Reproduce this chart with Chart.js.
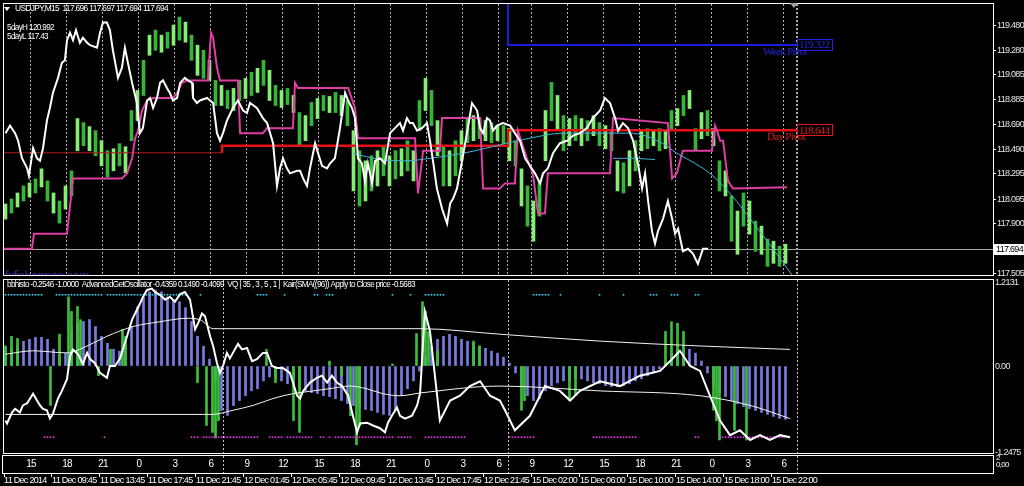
<!DOCTYPE html>
<html>
<head>
<meta charset="utf-8">
<title>USDJPY M15</title>
<script src="https://cdn.jsdelivr.net/npm/chart.js@4.4.1/dist/chart.umd.min.js"></script>
<style>
  html, body { margin: 0; padding: 0; background: #000; overflow: hidden; }
  #wrap { position: relative; width: 1024px; height: 486px; }
  canvas { position: absolute; left: 0; }
  #priceChart { top: 0; }
  #oscChart { top: 276px; }
</style>
</head>
<body>
<div id="wrap">
  <canvas id="priceChart" width="1024" height="277"></canvas>
  <canvas id="oscChart" width="1024" height="210"></canvas>
</div>
<script>
const FONT = "'Liberation Sans', 'DejaVu Sans', sans-serif";
const SERIF = "'Liberation Serif', 'DejaVu Serif', serif";

// x values are M15 bar numbers, 0 = first bar on screen
const xMin = -0.5;
const xMax = 329.17;

const hourIdx = [8.5, 20.5, 32.5, 44.5, 56.5, 68.5, 80.5, 92.5, 104.5, 116.5, 128.5, 140.5,
  152.5, 164.5, 175.5, 187.5, 199.5, 211.5, 223.5, 235.5, 247.5, 259.5];
const hourLabels = ['15', '18', '21', '0', '3', '6', '9', '12', '15', '18', '21', '0',
  '3', '6', '9', '12', '15', '18', '21', '0', '3', '6'];
const weekBreak = 167.5;
const lastBarMark = 263.8;
const daySeps = [72.5, 167.5, 263.8];
const dateIdx = [-0.5, 15.5, 31.5, 47.5, 63.5, 79.5, 95.5, 111.5, 127.5, 143.5, 159.5,
  175.5, 191.5, 207.5, 223.5, 239.5, 255.5];
const dateLabels = ['11 Dec 2014', '11 Dec 09:45', '11 Dec 13:45', '11 Dec 17:45', '11 Dec 21:45',
  '12 Dec 01:45', '12 Dec 05:45', '12 Dec 09:45', '12 Dec 13:45', '12 Dec 17:45', '12 Dec 21:45',
  '15 Dec 02:00', '15 Dec 06:00', '15 Dec 10:00', '15 Dec 14:00', '15 Dec 18:00', '15 Dec 22:00'];

// price panel
const priceTicks = [119.48, 119.28, 119.085, 118.885, 118.69, 118.49, 118.295, 118.095, 117.9, 117.505];
const bid = 117.694;

// one candle every second bar: highs and lows
const candleHi = [118.056, 118.096, 118.144, 118.20, 118.224, 118.256, 118.336, 118.24, 118.144, 118.08,
  118.20, 118.32, 118.736, 118.704, 118.672, 118.64, 118.56, 118.48, 118.496, 118.536,
  118.512, 118.80, 118.96, 119.20, 119.40, 119.44, 119.40, 119.424, 119.48, 119.544,
  119.504, 119.40, 119.32, 119.28, 119.20, 119.04, 119.00, 118.96, 118.976, 119.04,
  119.056, 119.104, 119.136, 119.20, 119.12, 119.00, 118.96, 118.976, 118.92, 118.784,
  118.76, 118.864, 118.896, 118.92, 118.912, 118.944, 118.92, 118.88, 118.64, 118.48,
  118.40, 118.44, 118.48, 118.52, 118.44, 118.48, 118.496, 118.56, 118.48, 118.88,
  119.056, 118.96, 118.72, 118.52, 118.48, 118.56, 118.64, 118.736, 118.76, 118.736,
  118.72, 118.704, 118.68, 118.68, 118.656, 118.56, 118.336, 118.20, 118.08, 118.24,
  118.80, 119.024, 118.92, 118.76, 118.736, 118.76, 118.736, 118.72, 118.76, 118.704,
  118.68, 118.64, 118.40, 118.384, 118.48, 118.56, 118.64, 118.656, 118.64, 118.656,
  118.64, 118.80, 118.816, 118.92, 118.96, 118.656, 118.784, 118.80, 118.656, 118.40,
  118.32, 118.12, 118.00, 118.144, 118.08, 117.92, 117.88, 117.776, 117.76, 117.72, 117.736];
const candleLo = [117.936, 117.984, 118.032, 118.08, 118.112, 118.144, 118.192, 118.08, 117.984, 117.904,
  118.016, 118.12, 118.48, 118.52, 118.48, 118.44, 118.36, 118.272, 118.32, 118.36,
  118.304, 118.56, 118.72, 118.92, 119.24, 119.28, 119.264, 119.296, 119.32, 119.36,
  119.344, 119.20, 119.08, 119.056, 119.04, 118.84, 118.84, 118.816, 118.80, 118.88,
  118.896, 118.92, 118.944, 119.00, 118.88, 118.84, 118.824, 118.848, 118.784, 118.52,
  118.56, 118.68, 118.736, 118.80, 118.784, 118.784, 118.76, 118.68, 118.16, 118.04,
  118.08, 118.16, 118.20, 118.28, 118.20, 118.256, 118.28, 118.32, 118.24, 118.64,
  118.80, 118.68, 118.44, 118.20, 118.20, 118.28, 118.40, 118.544, 118.56, 118.576,
  118.56, 118.544, 118.56, 118.536, 118.40, 118.36, 118.04, 117.88, 117.76, 117.96,
  118.40, 118.72, 118.64, 118.48, 118.52, 118.56, 118.52, 118.56, 118.60, 118.52,
  118.496, 118.48, 118.16, 118.144, 118.20, 118.32, 118.48, 118.496, 118.52, 118.48,
  118.496, 118.64, 118.68, 118.76, 118.816, 118.48, 118.576, 118.60, 118.52, 118.16,
  118.12, 117.76, 117.656, 117.88, 117.816, 117.68, 117.656, 117.56, 117.584, 117.56, 117.584];

const whiteLine = [[0, 118.62], [1.5, 118.68], [3.2, 118.62], [4.2, 118.56], [5.5, 118.42], [7.2, 118.34],
  [7.8, 118.28], [9.2, 118.50], [10.5, 118.42], [11.5, 118.40], [12.5, 118.50], [13.8, 118.72],
  [14.8, 118.82], [15.8, 118.94], [17.5, 119.06], [18.8, 119.18], [19.8, 119.20], [20.5, 119.36],
  [21.5, 119.42], [22.5, 119.36], [23.5, 119.44], [24.8, 119.34], [25.8, 119.38], [27.2, 119.34],
  [28.2, 119.32], [30.5, 119.30], [31.5, 119.42], [32.5, 119.50], [33.8, 119.50], [34.8, 119.44],
  [35.8, 119.28], [37.5, 119.06], [38.8, 119.14], [39.8, 119.30], [40.8, 119.18], [42.2, 119.02],
  [43.8, 118.86], [44.8, 118.62], [45.8, 118.66], [47.2, 118.88], [48.2, 118.90], [49.2, 118.82],
  [50.5, 118.90], [51.5, 119.02], [52.5, 119.04], [53.8, 118.98], [54.8, 118.94], [55.8, 118.88],
  [57.2, 118.90], [58.2, 119.02], [59.8, 119.06], [60.8, 119.04], [62.2, 119.02], [62.5, 118.90],
  [63.8, 118.86], [64.8, 118.88], [67.2, 118.90], [68.2, 118.88], [69.2, 118.86], [70.5, 118.62],
  [71.5, 118.56], [72.5, 118.62], [73.8, 118.72], [75.8, 118.82], [77.5, 118.88], [79.2, 118.80],
  [80.5, 118.78], [81.5, 118.86], [83.8, 118.82], [85.8, 118.74], [87.2, 118.70], [88.2, 118.62],
  [89.2, 118.54], [90.5, 118.20], [91.5, 118.34], [92.5, 118.42], [93.8, 118.34], [94.8, 118.30],
  [97.2, 118.32], [98.2, 118.32], [99.2, 118.26], [100.5, 118.20], [101.5, 118.34], [103.2, 118.54],
  [104.2, 118.46], [105.5, 118.36], [107.2, 118.34], [108.2, 118.38], [109.8, 118.42], [111.5, 118.66],
  [113.2, 118.94], [114.2, 118.88], [115.5, 118.82], [116.5, 118.74], [117.5, 118.42], [118.8, 118.38],
  [119.8, 118.24], [120.8, 118.38], [122.2, 118.22], [123.2, 118.40], [124.8, 118.42], [126.5, 118.38],
  [128.2, 118.62], [129.8, 118.66], [131.5, 118.70], [132.5, 118.64], [133.8, 118.74], [134.8, 118.70],
  [135.8, 118.70], [137.2, 118.64], [138.8, 118.66], [140.5, 118.70], [141.5, 118.56], [142.5, 118.40],
  [143.8, 118.18], [145.5, 118.02], [147.2, 117.90], [148.2, 118.06], [149.2, 118.10], [150.5, 118.18],
  [152.2, 118.40], [153.8, 118.62], [155.5, 118.86], [157.2, 118.80], [158.2, 118.66], [159.2, 118.62],
  [160.5, 118.74], [161.5, 118.72], [162.5, 118.64], [163.8, 118.68], [165.8, 118.70], [168.2, 118.68],
  [169.8, 118.62], [171.5, 118.56], [173.2, 118.42], [174.8, 118.36], [176.5, 118.30], [178.2, 118.22],
  [179.2, 118.30], [180.8, 118.34], [182.5, 118.46], [184.8, 118.54], [187.2, 118.56], [189.2, 118.60],
  [191.5, 118.62], [193.8, 118.66], [195.8, 118.74], [198.2, 118.80], [199.8, 118.90], [201.5, 118.86],
  [203.2, 118.74], [204.2, 118.64], [205.8, 118.70], [207.5, 118.66], [209.2, 118.56], [210.8, 118.38],
  [212.2, 118.18], [213.2, 118.30], [214.2, 118.08], [215.5, 117.84], [216.5, 117.74], [217.5, 117.84],
  [219.2, 117.94], [220.8, 118.08], [222.2, 117.94], [223.2, 117.82], [224.2, 117.86], [225.8, 117.68],
  [227.5, 117.70], [229.2, 117.66], [230.8, 117.58], [232.5, 117.70], [234.2, 117.70]];

const channelLine = [[-0.5, 117.70], [8.8, 117.70], [9.5, 117.82], [20.5, 117.82], [22.5, 118.26], [38.8, 118.26],
  [40.5, 118.30], [42.2, 118.42], [43.2, 118.58], [44.2, 118.64], [45.5, 118.80], [47.2, 118.88],
  [49.2, 118.90], [55.8, 118.90], [57.2, 118.94], [58.8, 119.02], [60.5, 119.04], [67.5, 119.04],
  [68.5, 119.42], [69.2, 119.38], [70.5, 119.14], [71.5, 119.04], [77.5, 119.04], [78.2, 118.62],
  [85.8, 118.62], [87.2, 118.66], [95.8, 118.66], [96.5, 119.02], [97.5, 118.98], [114.2, 118.98],
  [116.5, 118.82], [117.5, 118.58], [136.5, 118.58], [137.5, 118.14], [139.2, 118.48], [144.8, 118.48],
  [145.5, 118.74], [158.2, 118.74], [159.2, 118.18], [164.8, 118.18], [166.5, 118.22], [169.8, 118.22],
  [170.8, 118.64], [173.8, 118.42], [175.8, 118.30], [177.5, 117.98], [179.8, 117.98], [180.8, 118.30],
  [201.5, 118.30], [202.5, 118.74], [220.8, 118.70], [222.2, 118.26], [223.8, 118.30], [225.5, 118.46],
  [225.8, 118.48], [235.5, 118.48], [236.5, 118.68], [237.2, 118.64], [238.2, 118.56], [239.2, 118.56],
  [240.8, 118.24], [242.5, 118.18], [260.5, 118.19]];

const cyanCurve = [[115.8, 118.46], [124.8, 118.41], [133.8, 118.40], [141.5, 118.42], [152.5, 118.46],
  [167.2, 118.54], [174.8, 118.58], [185.8, 118.62], [199.2, 118.62], [208.2, 118.62], [218.2, 118.55],
  [223.8, 118.46], [229.8, 118.38], [235.8, 118.28], [242.2, 118.12], [248.2, 117.94], [255.8, 117.70],
  [262.5, 117.48]];
const cyanShort = [[202.5, 118.42], [209.8, 118.42], [216.5, 118.41]];

const dayPivotX = [-0.5, 72.2, 167.5, 263.8];
const dayPivot = [118.464, 118.52, 118.644];
const weekPivotPrev = 119.9;
const weekPivot = 119.322;

// oscillator panel
const oscTicks = [1.2131, 0, -1.2475];
const histBlue = [0.215, 0.257, 0.30, 0.358, 0.386, 0.415, 0.415, 0.386, 0.243, 0.143,
  0.186, 0.50, 0.615, 0.644, 0.672, 0.572, 0.429, 0.329, 0.243, 0.215,
  0.286, 0.572, 0.858, 1.00, 1.073, 1.10, 1.073, 1.00, 0.958, 0.93,
  0.844, 0.644, 0.429, 0.286, 0.10, -0.215, -0.644, -0.715, -0.572, -0.50,
  -0.429, -0.358, -0.329, -0.215, -0.157, -0.172, -0.215, -0.257, -0.286, -0.329,
  -0.358, -0.386, -0.40, -0.429, -0.443, -0.472, -0.50, -0.543, -0.572, -0.60,
  -0.629, -0.644, -0.672, -0.70, -0.715, -0.644, -0.429, -0.329, -0.215, -0.072,
  0.143, 0.286, 0.386, 0.429, 0.458, 0.429, 0.386, 0.358, 0.329, 0.286,
  0.257, 0.215, 0.186, 0.129, 0.043, -0.10, -0.286, -0.429, -0.50, -0.472,
  -0.358, -0.286, -0.243, -0.215, -0.215, -0.186, -0.186, -0.215, -0.243, -0.257,
  -0.286, -0.30, -0.30, -0.286, -0.257, -0.215, -0.186, -0.143, -0.10, -0.043,
  0.072, 0.186, 0.243, 0.272, 0.243, 0.186, 0.072, -0.10, -0.286, -0.386,
  -0.443, -0.50, -0.543, -0.586, -0.615, -0.644, -0.672, -0.70, -0.729, -0.758, -0.772];

const greenBars = [[0, 0.29], [2, 0.43], [4, 0.40], [15, -0.57], [18, 0.46], [21, 1.00], [22, 0.79],
  [24, 0.86], [25, 0.67], [31, -0.14], [35, 0.24], [39, 0.53], [40, 0.43], [64, -0.24], [67, -0.86],
  [69, -0.96], [70, -1.04], [71, -0.79], [87, 0.24], [90, -0.24], [96, -0.79], [98, -0.96], [108, 0.07],
  [112, -0.14], [115, -0.72], [117, -1.14], [118, -0.86], [129, 0.03], [137, 0.47], [139, 0.93],
  [140, 0.79], [141, 0.50], [144, 0.22], [156, 0.36], [158, 0.29], [172, -0.64], [173, -0.50],
  [188, -0.50], [190, -0.43], [220, 0.50], [222, 0.64], [224, 0.62], [226, 0.50], [236, -0.64],
  [237, -0.79], [238, -1.07], [243, -0.93], [247, -1.07]];

const oscLine = [[0, -0.79], [0.5, -0.83], [2.2, -0.67], [3.2, -0.62], [4.8, -0.67], [5.8, -0.57], [7.2, -0.54],
  [9.2, -0.40], [10.5, -0.50], [11.5, -0.57], [12.5, -0.62], [13.8, -0.64], [14.8, -0.76], [15.8, -0.69],
  [17.5, -0.47], [18.8, -0.36], [20.5, -0.19], [21.5, 0.14], [22.5, 0.24], [24.2, 0.17], [25.8, 0.03],
  [27.2, 0.19], [28.2, 0.10], [29.8, 0.04], [31.5, -0.10], [33.8, -0.17], [34.8, 0], [36.5, 0],
  [38.2, 0.11], [40.5, 0.43], [42.2, 0.67], [43.2, 0.76], [44.8, 0.90], [45.8, 1.00], [47.2, 1.10],
  [48.8, 1.12], [49.8, 1.07], [51.5, 1.03], [53.2, 0.96], [54.8, 1.00], [56.5, 0.93], [58.2, 1.04],
  [59.8, 1.07], [61.5, 0.96], [63.2, 0.53], [64.2, 0.62], [65.5, 0.76], [66.5, 0.72], [68.2, 0.43],
  [69.2, 0.29], [70.5, 0.04], [71.5, -0.10], [72.5, 0], [73.8, 0.19], [74.8, 0.11], [75.8, 0.19],
  [77.5, 0.32], [78.8, 0.24], [80.5, 0.26], [82.2, 0.07], [83.8, 0.10], [85.8, 0.19], [87.2, 0.19],
  [88.8, 0], [90.5, -0.03], [92.5, -0.03], [94.8, -0.10], [97.2, -0.43], [98.2, -0.47], [99.2, -0.36],
  [101.5, -0.24], [103.8, -0.17], [105.5, -0.14], [107.2, -0.24], [108.8, -0.14], [110.5, -0.24],
  [112.2, -0.29], [114.2, -0.43], [115.8, -0.72], [117.2, -0.96], [118.2, -0.83], [120.5, -0.82],
  [122.5, -0.86], [124.8, -0.90], [126.5, -0.96], [127.5, -0.82], [128.8, -0.72], [130.5, -0.60],
  [131.5, -0.72], [133.2, -0.76], [135.5, -0.72], [137.2, -0.57], [138.2, -0.39], [139.8, 0.79],
  [141.5, 0.50], [144.8, -0.79], [148.2, -0.50], [151.5, -0.43], [154.8, -0.29], [158.2, -0.22],
  [161.5, -0.43], [164.8, -0.50], [166.5, -0.64], [169.8, -0.93], [174.8, -0.72], [179.8, -0.29],
  [184.8, -0.36], [188.2, -0.50], [191.5, -0.36], [198.2, -0.22], [204.8, -0.29], [211.5, -0.14],
  [218.2, -0.07], [221.5, 0.07], [224.8, 0.22], [228.2, 0], [231.5, -0.07], [234.8, -0.43],
  [238.2, -0.79], [241.5, -1.00], [244.8, -0.93], [248.2, -1.07], [251.5, -1.00], [254.8, -1.07],
  [258.2, -1.00], [261.5, -1.03]];

const upperLine = [[0, 0.17], [9.2, 0.22], [20.5, 0.19], [27.2, 0.29], [33.8, 0.43], [42.5, 0.57], [51.5, 0.64],
  [60.5, 0.69], [64.8, 0.67], [69.2, 0.54], [138.2, 0.54], [164.8, 0.46], [198.2, 0.36], [231.5, 0.29],
  [261.5, 0.24]];
const lowerLine = [[0, -0.70], [68.8, -0.70], [75.8, -0.64], [82.5, -0.57], [89.2, -0.47], [95.8, -0.40],
  [102.5, -0.36], [109.2, -0.32], [114.8, -0.29], [120.5, -0.33], [125.8, -0.40], [131.5, -0.43],
  [138.2, -0.39], [164.8, -0.29], [198.2, -0.36], [231.5, -0.43], [248.2, -0.57], [261.5, -0.76]];

// VQ signal dots: runs of bars [first, last]
const cyanDotLevel = 1.03;
const cyanRuns = [[0, 12], [17, 32], [34, 60], [65, 65], [84, 87], [93, 93], [103, 104], [107, 109],
  [129, 129], [135, 135], [140, 146], [176, 181], [185, 185], [198, 198], [206, 206], [215, 217],
  [222, 224], [230, 231]];
const magentaDotLevel = -1.03;
const magentaRuns = [[13, 16], [33, 33], [62, 64], [66, 84], [88, 92], [94, 102], [105, 106], [108, 108],
  [110, 129], [131, 135], [140, 153], [168, 176], [196, 210], [230, 231], [238, 261]];

const toPts = arr => arr.map(p => ({ x: p[0], y: p[1] }));
const runDots = (runs, level) => {
  const out = [];
  runs.forEach(r => { for (let i = r[0]; i <= r[1]; i++) out.push({ x: i, y: level }); });
  return out;
};

Chart.defaults.font.family = FONT;
Chart.defaults.color = '#e6e6e6';

const noPad = s => { s.paddingTop = 0; s.paddingBottom = 0; s.paddingLeft = 0; s.paddingRight = 0; };

// terminal style text is narrow: tighten letter spacing for everything on the canvas
const tightText = {
  id: 'tightText',
  beforeUpdate(chart) { chart.ctx.letterSpacing = '-0.7px'; },
  beforeDraw(chart) { chart.ctx.letterSpacing = '-0.7px'; }
};

function labelBox(ctx, text, x, y, color) {
  ctx.font = '11px ' + SERIF;
  ctx.strokeStyle = color;
  ctx.lineWidth = 1;
  ctx.strokeRect(Math.round(x) + 0.5, Math.round(y) - 5.5, 35, 11);
  ctx.fillStyle = color;
  ctx.textAlign = 'left';
  ctx.textBaseline = 'middle';
  ctx.fillText(text, x + 2, y + 0.5, 32);
}

const priceDecor = {
  id: 'priceDecor',
  afterDraw(chart) {
    const { ctx, chartArea: a, scales: { x, y } } = chart;
    ctx.save();

    // watermark, cut by the panel edge
    ctx.save();
    ctx.beginPath();
    ctx.rect(a.left, a.top, a.right - a.left, a.bottom - a.top);
    ctx.clip();
    ctx.fillStyle = '#2e2e9c';
    ctx.font = '14px "Liberation Sans", sans-serif';
    ctx.textBaseline = 'middle';
    ctx.fillText('fxfisherman.com', 5, 277, 84);
    ctx.restore();

    ctx.strokeStyle = '#ffffff';
    ctx.lineWidth = 1;
    ctx.strokeRect(a.left - 0.5, a.top - 0.5, a.right - a.left + 1, a.bottom - a.top + 1);

    // header
    ctx.fillStyle = '#ffffff';
    ctx.beginPath();
    ctx.moveTo(4, 7); ctx.lineTo(10, 7); ctx.lineTo(7, 11); ctx.closePath();
    ctx.fill();
    ctx.font = '9px ' + FONT;
    ctx.textBaseline = 'middle';
    ctx.textAlign = 'left';
    ctx.fillText('USDJPY,M15  117.696 117.697 117.694 117.694', 15, 9, 153);
    ctx.fillText('5dayH 120.992', 7, 28, 47);
    ctx.fillText('5dayL 117.43', 7, 37, 41);

    // pivot labels
    const xe = x.getPixelForValue(lastBarMark);
    const yw = y.getPixelForValue(weekPivot);
    const yd = y.getPixelForValue(dayPivot[dayPivot.length - 1]);
    labelBox(ctx, weekPivot.toFixed(3), xe, yw, '#2323e0');
    labelBox(ctx, dayPivot[dayPivot.length - 1].toFixed(3), xe, yd, '#e01818');
    ctx.font = '11px ' + SERIF;
    ctx.fillStyle = '#2323e0';
    ctx.fillText('Week Pivot', 763, yw + 7, 50);
    ctx.fillStyle = '#e01818';
    ctx.fillText('Day Pivot', 767, yd + 7, 43);

    // shift marker
    ctx.fillStyle = '#a0a0a0';
    ctx.beginPath();
    ctx.moveTo(xe - 7, 3); ctx.lineTo(xe + 1, 3); ctx.lineTo(xe - 3, 8); ctx.closePath();
    ctx.fill();

    // current price tag
    const yb = y.getPixelForValue(bid);
    ctx.fillStyle = '#ffffff';
    ctx.fillRect(a.right + 1, Math.round(yb) - 5, 30, 11);
    ctx.fillStyle = '#000000';
    ctx.font = '9px ' + FONT;
    ctx.fillText(bid.toFixed(3), a.right + 3, yb + 0.5, 27);
    ctx.restore();
  }
};

const priceChart = new Chart(document.getElementById('priceChart'), {
  type: 'bar',
  data: {
    datasets: [
      {
        type: 'line', label: 'Bid', order: 7,
        data: [{ x: xMin, y: bid }, { x: xMax, y: bid }],
        borderColor: '#a8a8a8', borderWidth: 1, pointRadius: 0
      },
      {
        type: 'bar', label: 'USDJPY,M15', order: 6,
        data: candleHi.map((h, k) => ({ x: k * 2, y: [candleLo[k], h] })),
        backgroundColor: c => (c.dataIndex % 2 ? '#37b537' : '#86ee74'),
        barThickness: 3, grouped: false
      },
      {
        type: 'line', label: 'Day Pivot', order: 5,
        data: [{ x: dayPivotX[0], y: dayPivot[0] }, { x: dayPivotX[1], y: dayPivot[0] },
          { x: dayPivotX[1], y: dayPivot[1] }, { x: dayPivotX[2], y: dayPivot[1] },
          { x: dayPivotX[2], y: dayPivot[2] }, { x: dayPivotX[3], y: dayPivot[2] }],
        borderColor: '#e01010', borderWidth: 2, pointRadius: 0,
        segment: {
          borderWidth: c => (c.p0DataIndex < 1 ? 1 : 2.5),
          borderColor: c => (c.p0DataIndex < 1 ? '#b01818' : '#e81010')
        }
      },
      {
        type: 'line', label: 'Week Pivot', order: 5,
        data: [{ x: weekBreak, y: weekPivotPrev }, { x: weekBreak, y: weekPivot }, { x: lastBarMark, y: weekPivot }],
        borderColor: '#1a1ae0', borderWidth: 2, pointRadius: 0
      },
      {
        type: 'line', label: 'Channel', order: 3,
        data: toPts(channelLine),
        borderColor: '#df3ea4', borderWidth: 2, pointRadius: 0
      },
      {
        type: 'line', label: 'Curve', order: 2,
        data: toPts(cyanCurve),
        borderColor: '#3cb4dc', borderWidth: 1, pointRadius: 0, cubicInterpolationMode: 'monotone'
      },
      {
        type: 'line', label: 'Curve 2', order: 2,
        data: toPts(cyanShort),
        borderColor: '#3cb4dc', borderWidth: 1, pointRadius: 0
      },
      {
        type: 'line', label: 'Overlay', order: 1,
        data: toPts(whiteLine),
        borderColor: '#ffffff', borderWidth: 2, pointRadius: 0
      }
    ]
  },
  options: {
    responsive: false,
    animation: false,
    layout: { padding: { left: 4, top: 4, right: 0, bottom: 1 } },
    plugins: { legend: { display: false }, tooltip: { enabled: false } },
    scales: {
      x: {
        type: 'linear', min: xMin, max: xMax, offset: false,
        afterBuildTicks: s => { s.ticks = hourIdx.concat([weekBreak, lastBarMark]).map(v => ({ value: v })); },
        afterFit: s => { s.height = 1; noPad(s); },
        ticks: { display: false },
        grid: {
          offset: false, drawTicks: false,
          color: 'rgba(205,205,205,0.85)',
          lineWidth: c => (c.tick && c.tick.value === lastBarMark ? 2 : 1)
        },
        border: { display: false, dash: [2, 2] }
      },
      y: {
        type: 'linear', position: 'right', min: 117.491, max: 119.648,
        afterBuildTicks: s => { s.ticks = priceTicks.map(v => ({ value: v })); },
        afterFit: s => { s.width = 31; noPad(s); },
        ticks: { color: '#e6e6e6', font: { size: 9 }, padding: 1, callback: v => v.toFixed(3) },
        grid: { drawOnChartArea: false, drawTicks: true, tickLength: 3, tickColor: '#ffffff' },
        border: { display: false }
      }
    }
  },
  plugins: [tightText, priceDecor]
});

const oscDecor = {
  id: 'oscDecor',
  afterDraw(chart) {
    const { ctx, chartArea: a, scales: { x } } = chart;
    ctx.save();
    ctx.strokeStyle = '#ffffff';
    ctx.lineWidth = 1;
    ctx.strokeRect(a.left - 0.5, a.top - 0.5, a.right - a.left + 1, a.bottom - a.top + 1);
    // time axis box
    const bt = a.bottom + 2, bb = a.bottom + 20;
    ctx.strokeRect(2.5, bt + 0.5, a.right - 2, bb - bt);
    // day separators
    ctx.setLineDash([2, 2]);
    ctx.strokeStyle = 'rgba(215,215,215,0.9)';
    daySeps.forEach(v => {
      const px = Math.round(x.getPixelForValue(v)) + 0.5;
      ctx.beginPath();
      ctx.moveTo(px, a.top); ctx.lineTo(px, a.bottom);
      ctx.moveTo(px, bt + 1); ctx.lineTo(px, bb);
      ctx.stroke();
    });
    ctx.setLineDash([]);
    // indicator caption
    ctx.fillStyle = '#ffffff';
    ctx.font = '9px ' + FONT;
    ctx.textBaseline = 'middle';
    ctx.textAlign = 'left';
    ctx.fillText('bbhisto -0.2546 -1.0000  AdvancedGetOscillator -0.4359 0.1490 -0.4099  VQ | 35 , 3 , 5 , 1 |  Kair(SMA((96)) Apply to Close price -0.5683', 7, 9, 408);
    ctx.font = '8px ' + FONT;
    ctx.fillText('2', a.right + 3, bt + 3, 8);
    ctx.fillText('0,00', a.right + 3, bt + 10, 16);
    ctx.restore();
  }
};

const oscChart = new Chart(document.getElementById('oscChart'), {
  type: 'bar',
  data: {
    datasets: [
      {
        type: 'line', label: 'AdvancedGetOscillator', order: 1,
        data: toPts(oscLine),
        borderColor: '#ffffff', borderWidth: 2, pointRadius: 0
      },
      {
        type: 'line', label: 'Upper', order: 2,
        data: toPts(upperLine),
        borderColor: '#f2f2f2', borderWidth: 1, pointRadius: 0, cubicInterpolationMode: 'monotone'
      },
      {
        type: 'line', label: 'Lower', order: 2,
        data: toPts(lowerLine),
        borderColor: '#f2f2f2', borderWidth: 1, pointRadius: 0, cubicInterpolationMode: 'monotone'
      },
      {
        type: 'line', label: 'VQ up', order: 3, showLine: false,
        data: runDots(cyanRuns, cyanDotLevel),
        pointStyle: 'rect', pointRadius: 1.2, pointBorderWidth: 0, pointBackgroundColor: '#3fc6e0'
      },
      {
        type: 'line', label: 'VQ down', order: 3, showLine: false,
        data: runDots(magentaRuns, magentaDotLevel),
        pointStyle: 'rect', pointRadius: 1.2, pointBorderWidth: 0, pointBackgroundColor: '#e034e0'
      },
      {
        type: 'bar', label: 'bbhisto', order: 4,
        data: toPts(greenBars),
        backgroundColor: '#3cc03c', barThickness: 2, grouped: false
      },
      {
        type: 'bar', label: 'Kair', order: 5,
        data: histBlue.map((v, k) => ({ x: k * 2, y: v })),
        backgroundColor: '#7a7ae0', barThickness: 2, grouped: false
      }
    ]
  },
  options: {
    responsive: false,
    animation: false,
    layout: { padding: { left: 4, top: 2, right: 0, bottom: 0 } },
    plugins: { legend: { display: false }, tooltip: { enabled: false } },
    scales: {
      x: {
        type: 'linear', position: 'bottom', weight: 0, min: xMin, max: xMax, offset: false,
        afterBuildTicks: s => { s.ticks = hourIdx.map(v => ({ value: v })); },
        afterFit: s => { s.height = 20; noPad(s); },
        ticks: {
          autoSkip: false, maxRotation: 0, minRotation: 0, padding: 5,
          color: '#ffffff', font: { size: 10 },
          callback: (v, i) => hourLabels[i]
        },
        grid: { display: true, drawOnChartArea: false, drawTicks: false, offset: false },
        border: { display: false }
      },
      x2: {
        type: 'linear', position: 'bottom', weight: 1, min: xMin, max: xMax, offset: false,
        afterBuildTicks: s => { s.ticks = dateIdx.map(v => ({ value: v })); },
        afterFit: s => { s.height = 13; noPad(s); },
        ticks: {
          autoSkip: false, maxRotation: 0, minRotation: 0, padding: -2, align: 'start',
          color: '#ffffff', font: { size: 9 },
          callback: (v, i) => dateLabels[i]
        },
        grid: { drawOnChartArea: false, drawTicks: true, tickLength: 4, tickColor: '#ffffff', offset: false },
        border: { display: false }
      },
      y: {
        type: 'linear', position: 'right', min: -1.258, max: 1.244,
        afterBuildTicks: s => { s.ticks = oscTicks.map(v => ({ value: v })); },
        afterFit: s => { s.width = 31; noPad(s); },
        ticks: { color: '#e6e6e6', font: { size: 9 }, padding: 2, callback: v => (v === 0 ? '0.00' : v.toFixed(4)) },
        grid: { drawOnChartArea: false, drawTicks: false },
        border: { display: false }
      }
    }
  },
  plugins: [tightText, oscDecor]
});
</script>
</body>
</html>
